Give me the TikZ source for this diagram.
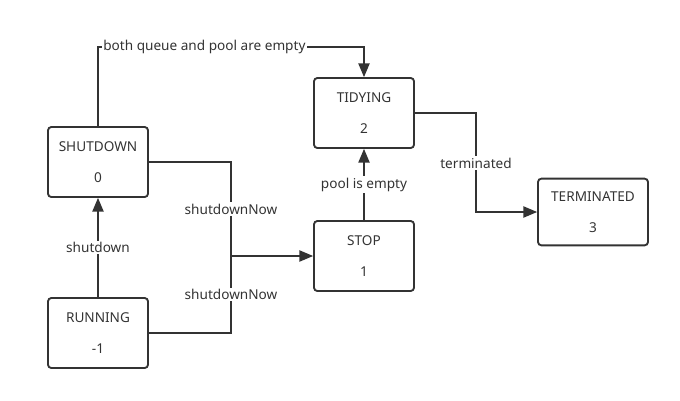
\documentclass[tikz,border=0pt]{standalone}
\usepackage{fontspec}
\setmainfont{Noto Sans}
\usetikzlibrary{arrows}

\begin{document}
\begin{tikzpicture}[x=0.75pt,y=-0.75pt,
        state/.style={draw=black!80,line width=1.4pt,rounded corners=2.5pt,
            minimum width=75pt,minimum height=52.5pt,align=center,
            font=\fontsize{10.2}{23.5}\selectfont,text=black!80},
        edge/.style={draw=black!80,line width=1.4pt,-triangle 45},
        lbl/.style={fill=white,inner sep=1pt,font=\fontsize{10.2}{12}\selectfont,text=black!80}]
    \useasboundingbox (0,0) rectangle (680,400);
    \node[state] (shutdown) at (98,162){SHUTDOWN\\0};
    \node[state] (running) at (98,333){RUNNING\\-1};
    \node[state] (tidying) at (364,113){TIDYING\\2};
    \node[state] (stop) at (364,256){STOP\\1};
    \node[state,minimum width=82.5pt,minimum height=50pt] (terminated) at (593,212){TERMINATED\\3};
    \coordinate (join) at (231,256);
    \draw[edge] (running) -- node[lbl]{shutdown} (shutdown);
    \draw[edge] (shutdown.north) |- (98,47) -| node[lbl,pos=0.2]{both queue and pool are empty} (tidying.north);
    \draw[draw=black!80,line width=1.4pt] (shutdown.east) -| node[lbl,pos=0.75]{shutdownNow} (join);
    \draw[draw=black!80,line width=1.4pt] (running.east) -| node[lbl,pos=0.75]{shutdownNow} (join);
    \draw[edge] (join) -- (stop);
    \draw[edge] (stop) -- node[lbl]{pool is empty} (tidying);
    \draw[edge] (tidying.east) -| (476,163) node[lbl]{terminated} |- (terminated.west);
\end{tikzpicture}
\end{document}
